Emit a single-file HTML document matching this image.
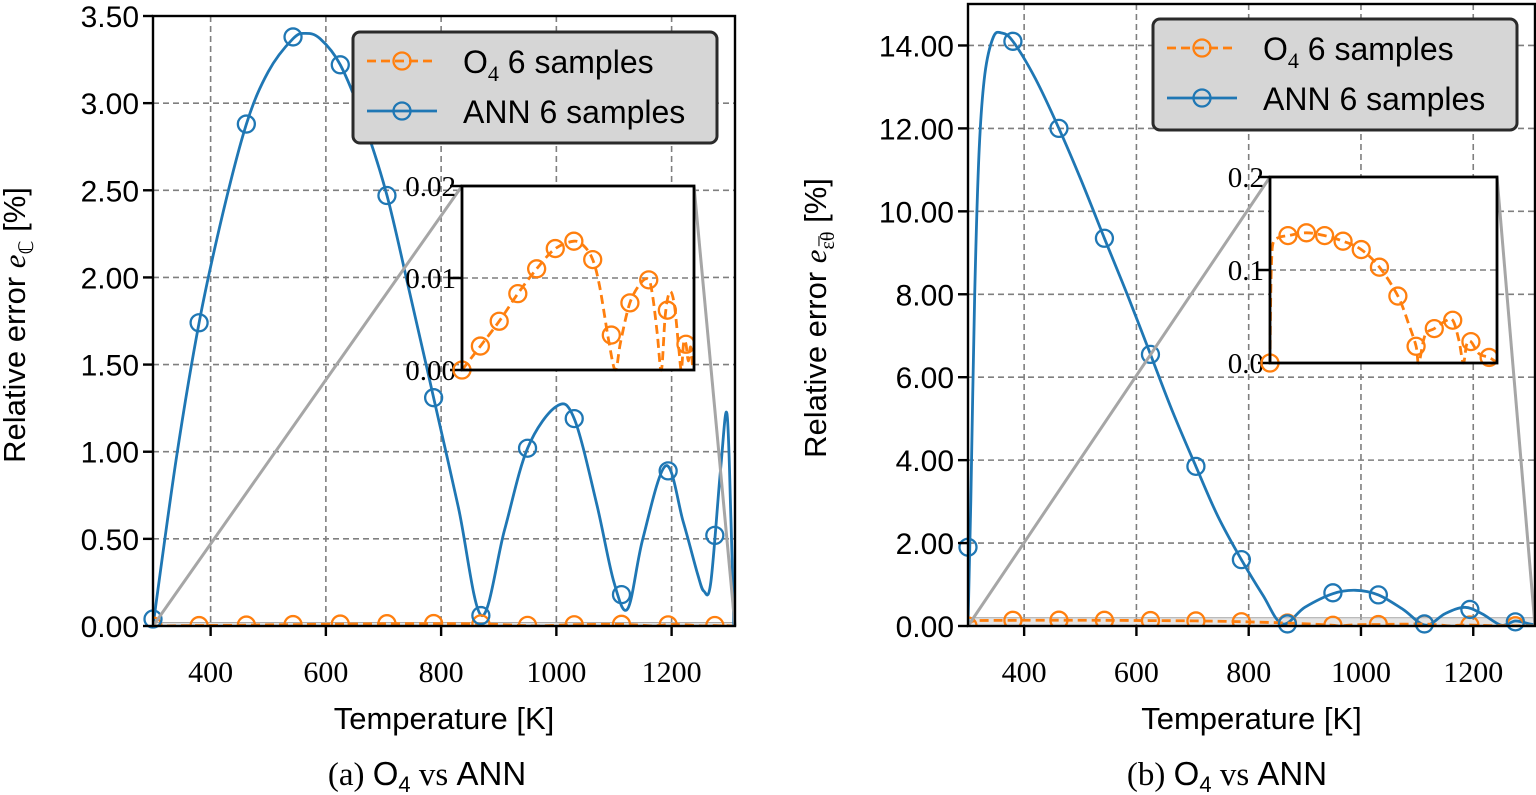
<!DOCTYPE html>
<html><head><meta charset="utf-8">
<style>
html,body{margin:0;padding:0;background:#fff;}
svg{display:block;}
.sans{font-family:"Liberation Sans",sans-serif;}
.serif{font-family:"Liberation Serif",serif;}
</style></head>
<body>
<svg id="chart" width="1536" height="795" xmlns="http://www.w3.org/2000/svg"></svg>
<script>
// ---------- data ----------
const sampleT = [300,380,462,543,625,706,787,869,950,1031,1113,1194,1275];
const leftAnnMarkers = [0.04,1.74,2.88,3.38,3.22,2.47,1.31,0.06,1.02,1.19,0.18,0.89,0.52];
const leftO4Markers = [0,0.0026,0.0053,0.0083,0.011,0.0132,0.014,0.012,0.0038,0.0073,0.0098,0.0065,0.0028];
const leftAnnCurveT = [300,340,380,420,462,500,543,565,590,625,665,706,745,787,830,870,910,950,1000,1031,1070,1100,1124,1150,1190,1220,1245,1256,1268,1285,1296,1303,1308];
const leftAnnCurveV = [0,0.95,1.74,2.35,2.88,3.18,3.37,3.40,3.37,3.22,2.9,2.47,1.92,1.31,0.68,0.06,0.55,1.02,1.26,1.19,0.7,0.25,0.10,0.5,0.92,0.6,0.3,0.2,0.25,0.9,1.22,0.6,0];
const leftO4CurveT = [300,380,462,543,625,706,787,830,869,900,940,968,990,1031,1080,1113,1130,1150,1168,1185,1205,1225,1245,1255,1265,1275,1285,1295,1305];
const leftO4CurveV = [0,0.0026,0.0053,0.0083,0.011,0.0132,0.014,0.0135,0.012,0.009,0.003,0,0.003,0.0073,0.0095,0.0098,0.008,0.004,0,0.006,0.0085,0.007,0.002,0,0.003,0.0028,0.001,0.0025,0];
const rightAnnMarkers = [1.9,14.1,12.0,9.35,6.55,3.85,1.6,0.05,0.8,0.75,0.05,0.4,0.1];
const rightO4Markers = [0,0.137,0.14,0.137,0.131,0.122,0.103,0.072,0.018,0.037,0.046,0.023,0.006];
const rightAnnCurveT = [300,305,312,320,330,345,360,380,420,462,500,543,585,625,665,706,745,787,825,860,900,950,990,1031,1075,1115,1150,1185,1215,1250,1275,1300,1310];
const rightAnnCurveV = [0,3,8,11.5,13.3,14.2,14.3,14.1,13.2,12.0,10.8,9.35,7.95,6.55,5.15,3.85,2.65,1.6,0.75,0.05,0.45,0.78,0.86,0.75,0.4,0.02,0.3,0.45,0.3,0.02,0.12,0.05,0.03];
const rightO4CurveT = [300,303,308,315,340,380,462,543,625,706,787,869,920,950,962,990,1031,1080,1113,1140,1160,1175,1194,1230,1275,1300,1310];
const rightO4CurveV = [0,0.07,0.115,0.13,0.135,0.137,0.14,0.137,0.131,0.122,0.103,0.072,0.04,0.018,0,0.03,0.037,0.045,0.046,0.025,0,0.02,0.023,0.01,0.006,0.002,0];
const xTicks = [400,600,800,1000,1200];
const leftYTicks = [0,0.5,1,1.5,2,2.5,3,3.5];
const rightYTicks = [0,2,4,6,8,10,12,14];
const leftInsetTicks = [0,0.01,0.02];
const leftInsetLabels = ["0.00","0.01","0.02"];
const rightInsetTicks = [0,0.1,0.2];
const rightInsetLabels = ["0.0","0.1","0.2"];

const NS="http://www.w3.org/2000/svg";
const svg=document.getElementById('chart');
function el(tag,attrs,parent){const e=document.createElementNS(NS,tag);for(const k in attrs)e.setAttribute(k,attrs[k]);(parent||svg).appendChild(e);return e;}
const BLUE="#1f77b4",ORANGE="#ff7f0e";

function smoothPath(pts){
  let d="M"+pts[0][0].toFixed(1)+","+pts[0][1].toFixed(1);
  for(let i=0;i<pts.length-1;i++){
    const p0=pts[Math.max(0,i-1)],p1=pts[i],p2=pts[i+1],p3=pts[Math.min(pts.length-1,i+2)];
    const c1=[p1[0]+(p2[0]-p0[0])/6,p1[1]+(p2[1]-p0[1])/6];
    const c2=[p2[0]-(p3[0]-p1[0])/6,p2[1]-(p3[1]-p1[1])/6];
    d+=" C"+c1[0].toFixed(1)+","+c1[1].toFixed(1)+" "+c2[0].toFixed(1)+","+c2[1].toFixed(1)+" "+p2[0].toFixed(1)+","+p2[1].toFixed(1);
  }
  return d;
}

function panel(cfg){
  const g=el('g',{});
  
  
  const X=v=>cfg.x0+(v-300)/(1310-300)*(cfg.x1-cfg.x0);
  const Y=v=>cfg.y1-(v/cfg.ymax)*(cfg.y1-cfg.y0);
  xTicks.forEach(t=>{const l=el('line',{x1:X(t),x2:X(t),y1:cfg.y0,y2:cfg.y1,stroke:'#7f7f7f','stroke-width':1.6,'stroke-dasharray':'6,4'},g);
    });
  cfg.yTicks.forEach(t=>{const l=el('line',{x1:cfg.x0,x2:cfg.x1,y1:Y(t),y2:Y(t),stroke:'#7f7f7f','stroke-width':1.6,'stroke-dasharray':'6,4'},g);
    });
  const rr=el('rect',{x:X(300),y:Y(cfg.insetMax),width:X(1310)-X(300),height:Y(0)-Y(cfg.insetMax),fill:'rgba(180,180,180,0.35)',stroke:'#aaa','stroke-width':1},g);
  
  const clip='clip-'+cfg.name;
  const cp=el('clipPath',{id:clip},g);el('rect',{x:cfg.x0,y:cfg.y0,width:cfg.x1-cfg.x0,height:cfg.y1-cfg.y0},cp);
  const pa=el('path',{d:smoothPath(cfg.annT.map((t,i)=>[X(t),Y(cfg.annV[i])])),fill:'none',stroke:BLUE,'stroke-width':2.8,'clip-path':'url(#'+clip+')'},g);
  
  const po=el('path',{d:smoothPath(cfg.o4T.map((t,i)=>[X(t),Y(cfg.o4V[i])])),fill:'none',stroke:ORANGE,'stroke-width':2.8,'stroke-dasharray':'9,5','clip-path':'url(#'+clip+')'},g);
  
  sampleT.forEach((t,i)=>{const c=el('circle',{cx:X(t),cy:Y(cfg.o4M[i]),r:8.5,fill:'none',stroke:ORANGE,'stroke-width':2.3,'clip-path':'url(#'+clip+')'},g);
    });
  sampleT.forEach((t,i)=>{const c=el('circle',{cx:X(t),cy:Y(cfg.annM[i]),r:8.5,fill:'none',stroke:BLUE,'stroke-width':2.3},g);
    });
  const I=cfg.inset;
  [[X(300),Y(0),I.x0,I.y0],[X(1310),Y(0),I.x1,I.y0]].forEach(a=>{const l=el('line',{x1:a[0],y1:a[1],x2:a[2],y2:a[3],stroke:'#a6a6a6','stroke-width':3},g);
    });
  const ig=el('g',{},g);
  el('rect',{x:I.x0,y:I.y0,width:I.x1-I.x0,height:I.y1-I.y0,fill:'#fff'},ig);
  const IX=v=>I.x0+(v-300)/(1310-300)*(I.x1-I.x0);
  const IY=v=>I.y1-(v/cfg.insetMax)*(I.y1-I.y0);
  const iclip='iclip-'+cfg.name;
  const icp=el('clipPath',{id:iclip},ig);el('rect',{x:I.x0-12,y:I.y0,width:I.x1-I.x0+12,height:I.y1-I.y0+12},icp);
  cfg.insetTicks.forEach((t,i)=>{
    const l=el('line',{x1:I.x0,x2:I.x1,y1:IY(t),y2:IY(t),stroke:'#7f7f7f','stroke-width':1.6,'stroke-dasharray':'6,4'},ig);
    
    el('line',{x1:I.x0-12,x2:I.x0,y1:IY(t),y2:IY(t),stroke:'#000','stroke-width':2.5},ig);
    const tx=el('text',{x:I.x0-6,y:IY(t)+10,'text-anchor':'end','font-size':29,class:'serif'},ig);tx.textContent=cfg.insetLabels[i];
    
  });
  const ipo=el('path',{d:smoothPath(cfg.o4T.map((t,i)=>[IX(t),IY(cfg.o4V[i])])),fill:'none',stroke:ORANGE,'stroke-width':2.8,'stroke-dasharray':'9,5','clip-path':'url(#'+iclip+')'},ig);
  
  sampleT.forEach((t,i)=>{const c=el('circle',{cx:IX(t),cy:IY(cfg.o4M[i]),r:8.5,fill:'none',stroke:ORANGE,'stroke-width':2.3,'clip-path':'url(#'+iclip+')'},ig);
    });
  el('rect',{x:I.x0,y:I.y0,width:I.x1-I.x0,height:I.y1-I.y0,fill:'none',stroke:'#000','stroke-width':2.8},ig);
  el('rect',{x:cfg.x0,y:cfg.y0,width:cfg.x1-cfg.x0,height:cfg.y1-cfg.y0,fill:'none',stroke:'#000','stroke-width':2.4},g);
  xTicks.forEach(t=>{el('line',{x1:X(t),x2:X(t),y1:cfg.y1,y2:cfg.y1+10,stroke:'#000','stroke-width':2.4},g);
    const tx=el('text',{x:X(t),y:cfg.y1+56,'text-anchor':'middle','font-size':30,class:'serif'},g);tx.textContent=t;
    });
  cfg.yTicks.forEach(t=>{el('line',{x1:cfg.x0-10,x2:cfg.x0,y1:Y(t),y2:Y(t),stroke:'#000','stroke-width':2.4},g);
    const tx=el('text',{x:cfg.x0-14,y:Y(t)+11,'text-anchor':'end','font-size':30,class:'sans'},g);tx.textContent=t.toFixed(2);
    });
  const xl=el('text',{x:(cfg.x0+cfg.x1)/2,y:729,'text-anchor':'middle','font-size':31,class:'sans'},g);xl.textContent='Temperature [K]';
  
  const yl=el('text',{transform:'translate('+cfg.ylx+','+cfg.yly+') rotate(-90)','text-anchor':'middle','font-size':31,class:'sans'},g);
  yl.innerHTML='Relative error <tspan font-family="Liberation Serif" font-style="italic">e</tspan><tspan font-size="20" dy="8" font-family="Liberation Serif">'+cfg.sub+'</tspan><tspan dy="-8"> [%]</tspan>';
  
  const cap=el('text',{x:cfg.capx,y:785,'text-anchor':'middle','font-size':33,class:'serif'},g);
  cap.innerHTML=cfg.cap+' <tspan class="sans">O<tspan font-size="22" dy="7">4</tspan></tspan><tspan dy="-7"> vs </tspan><tspan class="sans">ANN</tspan>';
  
  const L=cfg.legend;
  const lg=el('g',{},g);
  el('rect',{x:L.x,y:L.y,width:364,height:111,rx:7,fill:'#d6d6d6',stroke:'#2a2a2a','stroke-width':3},lg);
  const e1=el('g',{},lg);
  el('line',{x1:L.x+14,x2:L.x+84,y1:L.y+29,y2:L.y+29,stroke:ORANGE,'stroke-width':2.8,'stroke-dasharray':'9,5'},e1);
  el('circle',{cx:L.x+49,cy:L.y+29,r:8.5,fill:'none',stroke:ORANGE,'stroke-width':2.3},e1);
  const t1=el('text',{x:L.x+110,y:L.y+41,'font-size':32,class:'sans'},e1);t1.innerHTML='O<tspan font-size="22" dy="8" font-family="Liberation Serif">4</tspan><tspan dy="-8"> 6 samples</tspan>';
  const e2=el('g',{},lg);
  el('line',{x1:L.x+14,x2:L.x+84,y1:L.y+79,y2:L.y+79,stroke:BLUE,'stroke-width':2.8},e2);
  el('circle',{cx:L.x+49,cy:L.y+79,r:8.5,fill:'none',stroke:BLUE,'stroke-width':2.3},e2);
  const t2=el('text',{x:L.x+110,y:L.y+91,'font-size':32,class:'sans'},e2);t2.textContent='ANN 6 samples';
}

panel({name:'panel-a',x0:153,x1:735,y0:16,y1:626,ymax:3.5,yTicks:leftYTicks,
  annT:leftAnnCurveT,annV:leftAnnCurveV,o4T:leftO4CurveT,o4V:leftO4CurveV,annM:leftAnnMarkers,o4M:leftO4Markers,
  insetMax:0.02,insetTicks:leftInsetTicks,insetLabels:leftInsetLabels,inset:{x0:462,x1:694,y0:186,y1:370},
  legend:{x:353,y:32},ylx:25,yly:325,sub:'ℂ',capx:427,cap:'(a)'});
panel({name:'panel-b',x0:968,x1:1535,y0:4,y1:626,ymax:15.0,yTicks:rightYTicks,
  annT:rightAnnCurveT,annV:rightAnnCurveV,o4T:rightO4CurveT,o4V:rightO4CurveV,annM:rightAnnMarkers,o4M:rightO4Markers,
  insetMax:0.2,insetTicks:rightInsetTicks,insetLabels:rightInsetLabels,inset:{x0:1270,x1:1497,y0:177,y1:363},
  legend:{x:1153,y:19},ylx:826,yly:318,sub:'ε̅θ',capx:1227,cap:'(b)'});
</script>
</body></html>
